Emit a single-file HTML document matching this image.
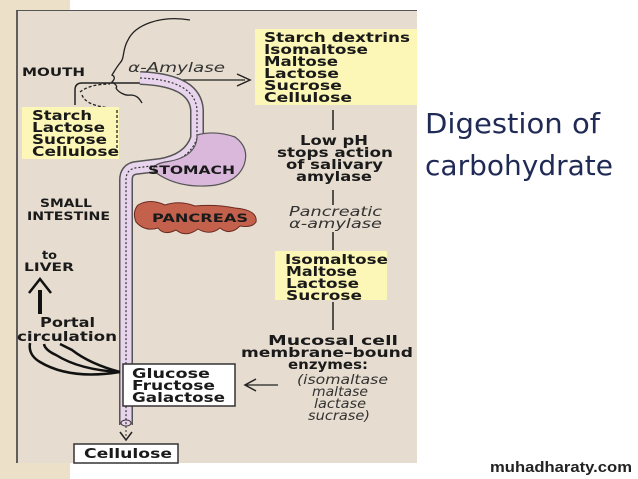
<!DOCTYPE html>
<html><head><meta charset="utf-8"><style>
html,body{margin:0;padding:0;background:#fff;width:638px;height:479px;overflow:hidden}
svg{display:block}
.b{font-family:"DejaVu Sans","Liberation Sans",sans-serif;font-weight:bold;font-size:13.5px;fill:#1a1a1a}
.i{font-family:"DejaVu Sans","Liberation Sans",sans-serif;font-style:italic;font-size:13px;fill:#333}
.s{font-family:"DejaVu Sans","Liberation Sans",sans-serif;font-weight:bold;font-size:11.5px;fill:#1a1a1a}
</style></head><body>
<svg width="638" height="479" viewBox="0 0 638 479" xmlns="http://www.w3.org/2000/svg">
<rect x="0" y="0" width="70" height="479" fill="#ece0c8"/>
<rect x="70" y="463" width="568" height="16" fill="#fff"/>
<rect x="16" y="10" width="401" height="453" fill="#e6dccf"/>
<line x1="17" y1="11" x2="17" y2="463" stroke="#333" stroke-width="1.5"/>
<line x1="16" y1="10.5" x2="417" y2="10.5" stroke="#555" stroke-width="1"/>
<path d="M190 20 C160 15 135 25 128 40 C122 50 125 58 120 63 C116 68 114 72 112 75 C116 77 114 80 112 82 C115 84 118 86 116 88 C118 92 125 96 130 95 C138 95 140 100 142 103" fill="none" stroke="#222" stroke-width="1.3"/>
<path d="M75 105 L75 90 Q75 83 82 83 L140 83" fill="none" stroke="#222" stroke-width="1.5"/>
<path d="M80 92 Q90 84 110 84 M82 95 Q86 106 112 108 L117 112 L117 150" fill="none" stroke="#222" stroke-width="1.3" stroke-dasharray="3,2"/>
<line x1="140" y1="80" x2="245" y2="80" stroke="#222" stroke-width="1.3"/>
<path d="M237 74 L250 80 L237 86" fill="none" stroke="#222" stroke-width="1.5"/>
<path d="M140 78 Q195 80 197 110 L197 138 Q190 160 160 165 L135 168 Q126 170 126 180 L126 425" fill="none" stroke="#555" stroke-width="14"/>
<path d="M140 78 Q195 80 197 110 L197 138 Q190 160 160 165 L135 168 Q126 170 126 180 L126 425" fill="none" stroke="#e8d4ec" stroke-width="11"/>
<path d="M140 78 Q195 80 197 110 L197 138 Q190 160 160 165 L135 168 Q126 170 126 180 L126 425" fill="none" stroke="#333" stroke-width="1.2" stroke-dasharray="2,2"/>
<path d="M197 135 Q215 130 235 137 Q250 148 244 165 Q236 185 205 186 Q175 187 155 172 Q150 165 165 162 Q195 158 197 138 Z" fill="#d9b8dc" stroke="#555" stroke-width="1.2"/>
<text x="148" y="174" class="s" textLength="87" lengthAdjust="spacingAndGlyphs">STOMACH</text>
<path d="M138 205 Q150 198 165 205 Q180 200 195 206 Q215 204 235 208 Q258 210 256 222 Q252 228 240 226 Q230 236 220 228 Q210 236 198 229 Q186 238 176 230 Q164 236 158 228 Q145 232 136 222 Q132 212 138 205 Z" fill="#c4614c" stroke="#6b2a20" stroke-width="1"/>
<text x="152" y="222" class="s" fill="#3a1a14" textLength="96" lengthAdjust="spacingAndGlyphs">PANCREAS</text>
<rect x="255" y="29" width="162" height="76" fill="#fcf7b6"/>
<g class="b">
<text x="264" y="42" textLength="146" lengthAdjust="spacingAndGlyphs">Starch dextrins</text>
<text x="264" y="54" textLength="104" lengthAdjust="spacingAndGlyphs">Isomaltose</text>
<text x="264" y="66" textLength="74" lengthAdjust="spacingAndGlyphs">Maltose</text>
<text x="264" y="78" textLength="75" lengthAdjust="spacingAndGlyphs">Lactose</text>
<text x="264" y="90" textLength="78" lengthAdjust="spacingAndGlyphs">Sucrose</text>
<text x="264" y="102" textLength="88" lengthAdjust="spacingAndGlyphs">Cellulose</text>
</g>
<rect x="22" y="107" width="97" height="52" fill="#fcf7b6"/>
<path d="M117 110 L117 150" stroke="#222" stroke-width="1.3" stroke-dasharray="3,2"/>
<g class="b">
<text x="32" y="120" textLength="60" lengthAdjust="spacingAndGlyphs">Starch</text>
<text x="32" y="132" textLength="73" lengthAdjust="spacingAndGlyphs">Lactose</text>
<text x="32" y="144" textLength="75" lengthAdjust="spacingAndGlyphs">Sucrose</text>
<text x="32" y="156" textLength="87" lengthAdjust="spacingAndGlyphs">Cellulose</text>
</g>
<rect x="275" y="251" width="112" height="49" fill="#fcf7b6"/>
<g class="b">
<text x="285" y="264" textLength="103" lengthAdjust="spacingAndGlyphs">Isomaltose</text>
<text x="286" y="276" textLength="71" lengthAdjust="spacingAndGlyphs">Maltose</text>
<text x="286" y="288" textLength="73" lengthAdjust="spacingAndGlyphs">Lactose</text>
<text x="286" y="300" textLength="76" lengthAdjust="spacingAndGlyphs">Sucrose</text>
</g>
<text x="22" y="76" class="s" textLength="63" lengthAdjust="spacingAndGlyphs">MOUTH</text>
<text x="128" y="72" class="i" textLength="97" lengthAdjust="spacingAndGlyphs">α-Amylase</text>
<text x="40" y="207" class="s" textLength="52" lengthAdjust="spacingAndGlyphs">SMALL</text>
<text x="27" y="220" class="s" textLength="83" lengthAdjust="spacingAndGlyphs">INTESTINE</text>
<text x="42" y="259" class="s" textLength="15" lengthAdjust="spacingAndGlyphs">to</text>
<text x="24" y="271" class="s" textLength="50" lengthAdjust="spacingAndGlyphs">LIVER</text>
<path d="M40 314 L40 290" stroke="#111" stroke-width="4"/>
<path d="M29 293 L40 279 L51 293" fill="none" stroke="#111" stroke-width="2.5"/>
<text x="40" y="327" class="b" textLength="55" lengthAdjust="spacingAndGlyphs">Portal</text>
<text x="17" y="341" class="b" textLength="100" lengthAdjust="spacingAndGlyphs">circulation</text>
<path d="M120 372 Q70 380 40 362 Q28 355 30 343 M120 372 Q80 370 56 355 Q45 350 44 344 M120 372 Q90 364 72 350 Q64 346 60 344" fill="none" stroke="#111" stroke-width="2.5"/>
<g stroke="#222" stroke-width="1.5">
<line x1="333" y1="110" x2="333" y2="130"/><line x1="333" y1="190" x2="333" y2="205"/>
<line x1="333" y1="232" x2="333" y2="250"/><line x1="333" y1="302" x2="333" y2="330"/>
</g>
<g class="b">
<text x="300" y="145" textLength="68" lengthAdjust="spacingAndGlyphs">Low pH</text>
<text x="277" y="157" textLength="116" lengthAdjust="spacingAndGlyphs">stops action</text>
<text x="286" y="169" textLength="97" lengthAdjust="spacingAndGlyphs">of salivary</text>
<text x="296" y="181" textLength="76" lengthAdjust="spacingAndGlyphs">amylase</text>
<text x="268" y="345" textLength="130" lengthAdjust="spacingAndGlyphs">Mucosal cell</text>
<text x="241" y="357" textLength="172" lengthAdjust="spacingAndGlyphs">membrane–bound</text>
<text x="288" y="369" textLength="80" lengthAdjust="spacingAndGlyphs">enzymes:</text>
</g>
<g class="i">
<text x="289" y="216" textLength="93" lengthAdjust="spacingAndGlyphs">Pancreatic</text>
<text x="289" y="228" textLength="93" lengthAdjust="spacingAndGlyphs">α-amylase</text>
<text x="297" y="384" textLength="91" lengthAdjust="spacingAndGlyphs">(isomaltase</text>
<text x="312" y="396" textLength="56" lengthAdjust="spacingAndGlyphs">maltase</text>
<text x="314" y="408" textLength="52" lengthAdjust="spacingAndGlyphs">lactase</text>
<text x="308" y="420" textLength="62" lengthAdjust="spacingAndGlyphs">sucrase)</text>
</g>
<line x1="246" y1="385" x2="278" y2="385" stroke="#222" stroke-width="1.3"/>
<path d="M256 379 L245 385 L256 391" fill="none" stroke="#222" stroke-width="1.5"/>
<rect x="123" y="364" width="112" height="42" fill="#fff" stroke="#333" stroke-width="1.5"/>
<g class="b">
<text x="132" y="378" textLength="78" lengthAdjust="spacingAndGlyphs">Glucose</text>
<text x="132" y="390" textLength="83" lengthAdjust="spacingAndGlyphs">Fructose</text>
<text x="132" y="402" textLength="93" lengthAdjust="spacingAndGlyphs">Galactose</text>
</g>
<ellipse cx="126" cy="423" rx="5" ry="3" fill="none" stroke="#333"/>
<line x1="126" y1="426" x2="126" y2="437" stroke="#333" stroke-dasharray="2,2"/>
<path d="M120 432 L126 440 L132 432" fill="none" stroke="#222" stroke-width="1.5"/>
<rect x="74" y="444" width="104" height="19" fill="#fff" stroke="#333" stroke-width="1.5"/>
<text x="84" y="458" class="b" textLength="88" lengthAdjust="spacingAndGlyphs">Cellulose</text>
<text font-family="'DejaVu Sans','Liberation Sans',sans-serif" font-size="28" fill="#1f2a55"><tspan x="425" y="133" textLength="175" lengthAdjust="spacingAndGlyphs">Digestion of</tspan></text>
<text font-family="'DejaVu Sans','Liberation Sans',sans-serif" font-size="28" fill="#1f2a55"><tspan x="425" y="175" textLength="188" lengthAdjust="spacingAndGlyphs">carbohydrate</tspan></text>
<text x="490" y="472" font-family="'Liberation Sans',Arial,sans-serif" font-weight="bold" font-size="15" fill="#222" textLength="142" lengthAdjust="spacingAndGlyphs">muhadharaty.com</text>
</svg>
</body></html>
